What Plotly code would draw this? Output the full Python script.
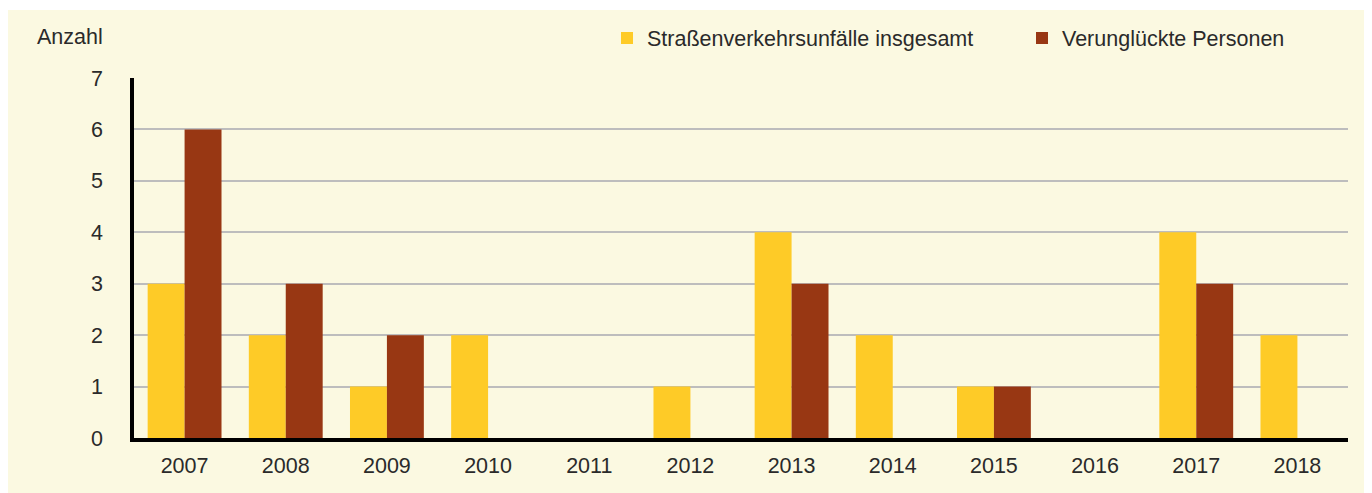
import plotly.graph_objects as go

years = ["2007", "2008", "2009", "2010", "2011", "2012", "2013", "2014", "2015", "2016", "2017", "2018"]
unfaelle = [3, 2, 1, 2, 0, 1, 4, 2, 1, 0, 4, 2]
verunglueckte = [6, 3, 2, 0, 0, 0, 3, 0, 1, 0, 3, 0]
series_names = ["Straßenverkehrsunfälle insgesamt", "Verunglückte Personen"]
y_ticks = [0, 1, 2, 3, 4, 5, 6, 7]

# page offset of the figure (browser body margin)
OX, OY = 8, 8
W, H = 1372, 493
# plot area in page pixels: x 134..1348, y 78..438
L = 134 - OX
T = 78 - OY
R = W - (1348 - OX)
B = H - (438 - OY)
PW, PH = W - L - R, H - T - B
BG = "#FBF9E1"
FONT = "Liberation Sans, Arial, sans-serif"
TXT = "#2a2a2a"
FS = 21.5

fig = go.Figure()
fig.add_trace(go.Bar(x=years, y=unfaelle, name=series_names[0], legend="legend",
                     marker=dict(color="#FECB27", line=dict(width=0))))
fig.add_trace(go.Bar(x=years, y=verunglueckte, name=series_names[1], legend="legend2",
                     marker=dict(color="#983713", line=dict(width=0))))

def px_x(p):
    # page pixel -> paper fraction
    return (p - OX - L) / PW

def px_y(p):
    return 1 - (p - OY - T) / PH

shapes = [
    dict(type="rect", xref="paper", yref="paper", x0=px_x(0), x1=px_x(W + 20), y0=px_y(10), y1=px_y(-5),
         fillcolor="white", line=dict(width=0), layer="below"),
]

legend_common = dict(orientation="h", xanchor="left", yanchor="middle",
                     bgcolor="rgba(0,0,0,0)", font=dict(size=FS, color=TXT, family=FONT))

fig.update_layout(
    width=W, height=H,
    margin=dict(l=L, r=R, t=T, b=B, pad=0, autoexpand=False),
    paper_bgcolor=BG, plot_bgcolor=BG,
    font=dict(family=FONT, size=FS, color=TXT),
    barmode="group", bargap=0.27, bargroupgap=0,
    showlegend=True,
    legend=dict(x=px_x(607), y=px_y(38), **legend_common),
    legend2=dict(x=px_x(1022), y=px_y(38), **legend_common),
    shapes=shapes,
    annotations=[dict(text="Anzahl", xref="paper", yref="paper", x=px_x(105), y=px_y(37),
                      xanchor="right", yanchor="middle", showarrow=False,
                      font=dict(size=FS, color=TXT))],
    xaxis=dict(showline=True, linecolor="black", linewidth=3.5, showgrid=False,
               ticks="", tickfont=dict(size=FS, color=TXT), ticklabelstandoff=5),
    yaxis=dict(range=[0, 7], tickvals=y_ticks, showline=True, linecolor="black", linewidth=3.5,
               showgrid=True, gridcolor="#BDBDBD", gridwidth=2, zeroline=False,
               ticks="", tickfont=dict(size=FS, color=TXT), ticklabelstandoff=23),
)

fig.write_html("out.html")
